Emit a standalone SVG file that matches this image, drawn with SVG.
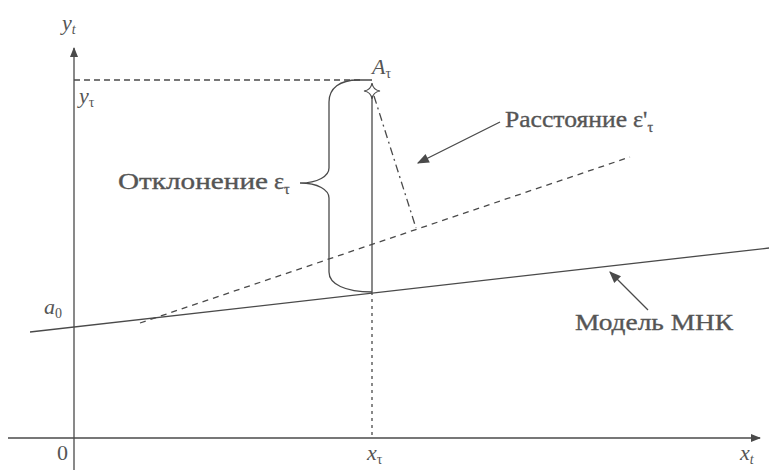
<svg xmlns="http://www.w3.org/2000/svg" width="769" height="470" viewBox="0 0 769 470">
<style>
.ln{stroke:#4a4a4a;stroke-width:1.3;fill:none}
text{font-family:"Liberation Serif","DejaVu Serif","Times New Roman",serif;fill:#555}
.lbl{font-size:24px;stroke:#555;stroke-width:0.35}
.math{font-style:italic;font-size:22px}
.sub{font-size:14px;font-style:italic}
.up{font-size:14px;font-style:normal}
</style>
<defs>
<marker id="ah" viewBox="0 0 10 10" refX="9" refY="5" markerWidth="10" markerHeight="10" markerUnits="userSpaceOnUse" orient="auto">
<path d="M0,1 L10,5 L0,9 Z" fill="#4a4a4a"/>
</marker>
<marker id="ah2" viewBox="0 0 10 10" refX="9" refY="5" markerWidth="14" markerHeight="12" markerUnits="userSpaceOnUse" orient="auto">
<path d="M0,1 L10,5 L0,9 Z" fill="#4a4a4a"/>
</marker>
</defs>
<rect width="769" height="470" fill="#fff"/>
<g id="axes">
<line class="ln" x1="74" y1="470" x2="74" y2="48" marker-end="url(#ah)"/>
<line class="ln" x1="8" y1="438" x2="760" y2="438" marker-end="url(#ah)"/>
<text class="math" x="62" y="30">y<tspan class="sub" dy="4">t</tspan></text>
<text x="57" y="460" font-size="22">0</text>
<text class="math" x="367" y="460">x<tspan class="up" dy="4">τ</tspan></text>
<text class="math" x="740" y="460">x<tspan class="sub" dy="4">t</tspan></text>
<text class="math" x="44" y="314">a<tspan class="up" dy="4">0</tspan></text>
<text class="math" x="79" y="103">y<tspan class="up" dy="4">τ</tspan></text>
</g>
<g id="connectors">
<line class="ln" x1="30" y1="332" x2="769" y2="248"/>
<line class="ln" x1="140" y1="323" x2="630" y2="157" stroke-dasharray="6 5"/>
<line class="ln" x1="74" y1="80" x2="360" y2="80" stroke-dasharray="6 4"/>
<line class="ln" x1="372" y1="95" x2="372" y2="292"/>
<line class="ln" x1="372" y1="292" x2="372" y2="438" stroke-dasharray="3 4"/>
<line class="ln" x1="374" y1="96" x2="416" y2="228" stroke-dasharray="8 4 2 4"/>
<path class="ln" d="M372,80 L358,80 C340,80 329,88 329,102 L329,168 C329,176 318,183 300,183 C318,183 329,190 329,198 L329,272 C329,284 345,292 372,292"/>
<line class="ln" x1="500" y1="122" x2="418" y2="163" marker-end="url(#ah2)"/>
<line class="ln" x1="648" y1="310" x2="610" y2="272" marker-end="url(#ah2)"/>
</g>
<g id="point">
<path d="M372,83 Q373,90 380,91 Q373,92 372,99 Q371,92 364,91 Q371,90 372,83 Z" fill="#fff" stroke="#4a4a4a" stroke-width="1.2"/>
<text class="math" x="372" y="74">A<tspan class="up" dy="4">τ</tspan></text>
</g>
<g id="label-deviation">
<text class="lbl" x="118" y="189"><tspan textLength="150" lengthAdjust="spacingAndGlyphs">Отклонение</tspan> ε<tspan class="up" dy="5">τ</tspan></text>
</g>
<g id="label-distance">
<text class="lbl" x="505" y="127"><tspan textLength="122" lengthAdjust="spacingAndGlyphs">Расстояние</tspan> ε'<tspan class="up" dy="5">τ</tspan></text>
</g>
<g id="label-model">
<text class="lbl" x="575" y="330" textLength="158" lengthAdjust="spacingAndGlyphs">Модель МНК</text>
</g>
</svg>
